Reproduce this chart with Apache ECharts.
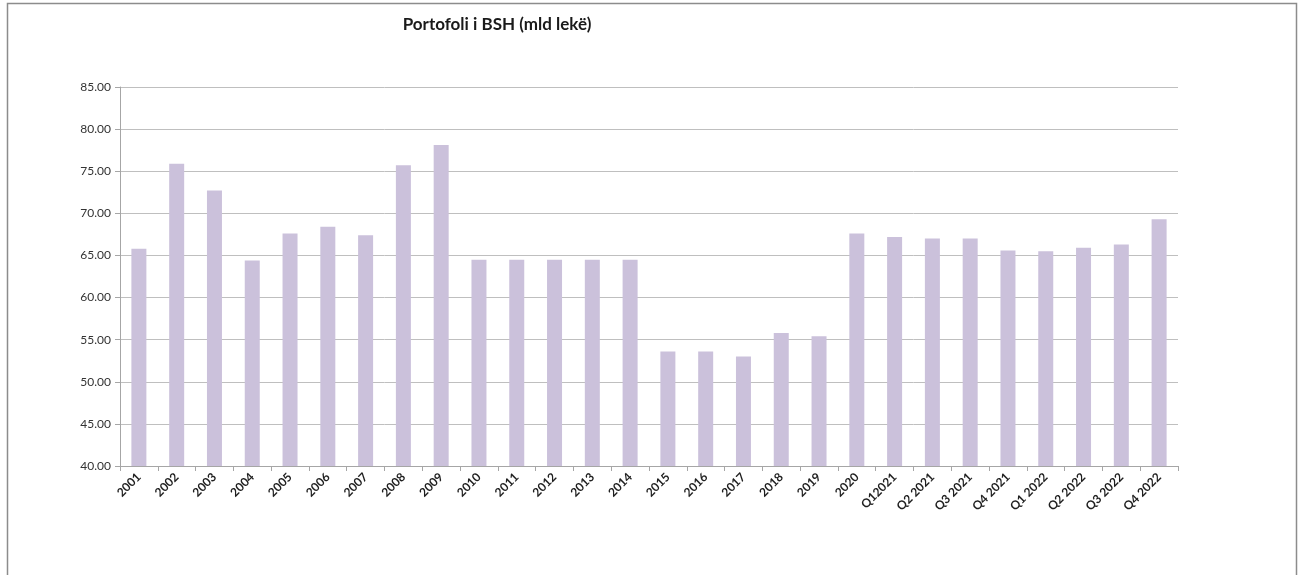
<!DOCTYPE html>
<html>
<head>
<meta charset="utf-8">
<script src="https://cdn.jsdelivr.net/npm/echarts@6/dist/echarts.min.js"></script>
<style>
html,body{margin:0;padding:0;background:#fff;}
#chart{width:1304px;height:575px;}
</style>
</head>
<body>
<div id="chart"></div>
<script>
const titleText = 'Portofoli i BSH (mld lekë)';
const categories = ['2001','2002','2003','2004','2005','2006','2007','2008','2009','2010','2011','2012','2013','2014','2015','2016','2017','2018','2019','2020','Q12021','Q2 2021','Q3 2021','Q4 2021','Q1 2022','Q2 2022','Q3 2022','Q4 2022'];
const values = [65.8,75.9,72.7,64.4,67.6,68.4,67.4,75.7,78.1,64.5,64.5,64.5,64.5,64.5,53.6,53.6,53.0,55.8,55.4,67.6,67.2,67.0,67.0,65.6,65.5,65.9,66.3,69.3];
const yMin = 40, yMax = 85, yStep = 5;

const chart = echarts.init(document.getElementById('chart'));
chart.setOption({
  animation: false,
  backgroundColor: '#ffffff',
  textStyle: { fontFamily: 'Lato' },
  title: {
    text: titleText,
    left: 492, top: 11, textAlign: 'center',
    textStyle: { fontFamily: 'Lato', fontSize: 17, fontWeight: 'bold', color: '#1a1a1a' }
  },
  graphic: [
    { type: 'rect', silent: true, shape: { x: 7.5, y: 3.5, width: 1289, height: 580 },
      style: { fill: null, stroke: '#8c8c8c', lineWidth: 1.5 } }
  ],
  grid: { left: 120, right: 126, top: 87, bottom: 109, containLabel: false },
  xAxis: {
    type: 'category',
    data: categories,
    boundaryGap: true,
    axisLine: { lineStyle: { color: '#a6a6a6', width: 1 } },
    axisTick: { show: true, length: 5, lineStyle: { color: '#a6a6a6' } },
    axisLabel: { rotate: 45, fontSize: 12, color: '#1f1f1f', margin: 9, interval: 0, fontFamily: 'Lato', fontWeight: 'bold' }
  },
  yAxis: {
    type: 'value',
    min: yMin, max: yMax, interval: yStep,
    axisLine: { show: true, lineStyle: { color: '#a6a6a6', width: 1 } },
    axisTick: { show: true, length: 5, lineStyle: { color: '#a6a6a6' } },
    splitLine: { show: true, lineStyle: { color: '#bfbfbf', width: 1 } },
    axisLabel: { fontSize: 12, color: '#333333', margin: 9, fontFamily: 'Lato',
      formatter: v => v.toFixed(2) }
  },
  series: [{
    type: 'bar',
    data: values,
    barWidth: 15,
    itemStyle: { color: '#cbc1db' }
  }]
});
</script>
</body>
</html>
